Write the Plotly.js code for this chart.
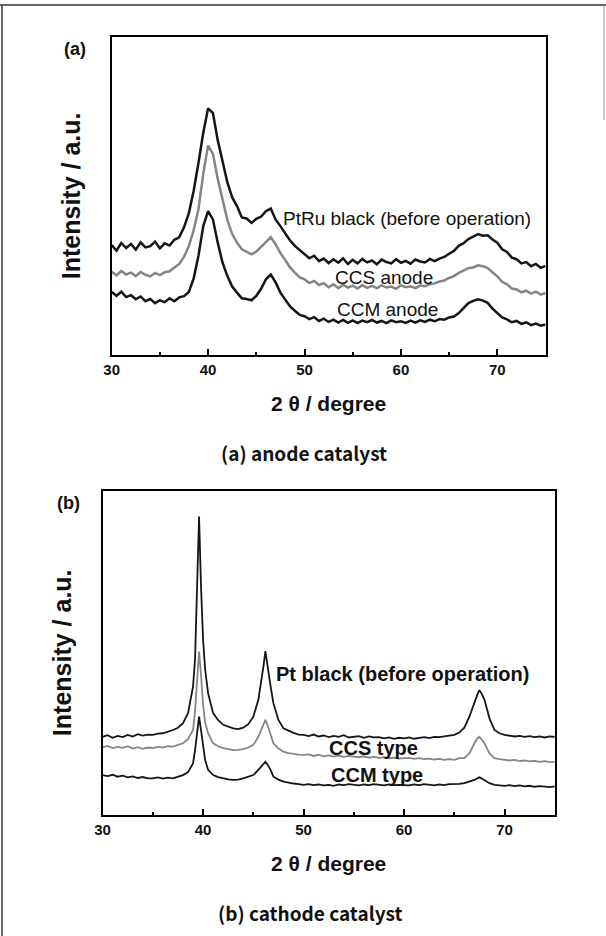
<!DOCTYPE html>
<html>
<head>
<meta charset="utf-8">
<script src="https://cdn.plot.ly/plotly-3.0.1.min.js"></script>
<style>html,body{margin:0;padding:0;background:#fff;}#chart{width:606px;height:936px;}</style>
</head>
<body>
<div id="chart"></div>
<script>
// ---------- Panel (a): anode catalyst, 2θ from 30 to 75 step 0.5 ----------
const xa = [30,30.5,31,31.5,32,32.5,33,33.5,34,34.5,35,35.5,36,36.5,37,37.5,38,38.5,39,39.5,
  40,40.5,41,41.5,42,42.5,43,43.5,44,44.5,45,45.5,46,46.5,47,47.5,48,48.5,49,49.5,
  50,50.5,51,51.5,52,52.5,53,53.5,54,54.5,55,55.5,56,56.5,57,57.5,58,58.5,59,59.5,
  60,60.5,61,61.5,62,62.5,63,63.5,64,64.5,65,65.5,66,66.5,67,67.5,68,68.5,69,69.5,
  70,70.5,71,71.5,72,72.5,73,73.5,74,74.5,75];
const ptruBlack = [34.5,32.8,35.2,33.6,34.9,33.1,35.4,33.8,34.2,35.6,33.5,35.1,34.4,36.2,37.0,40.1,44.5,51.5,60.3,69.8,
  77.5,76.0,67.5,60.8,54.2,49.5,46.8,43.2,42.9,41.5,42.8,43.5,45.2,46.0,42.6,40.5,38.2,36.0,34.3,32.9,
  31.6,30.4,31.2,29.5,30.3,28.9,30.1,29.0,30.4,28.6,29.9,28.8,30.2,29.1,29.7,28.5,30.0,29.2,28.8,30.1,
  29.0,29.6,28.7,30.0,29.4,29.1,30.2,29.5,30.3,30.8,31.8,32.7,34.3,35.1,36.4,37.2,38.0,37.5,37.6,36.3,
  35.3,33.2,32.4,30.6,30.1,28.8,29.2,27.9,28.6,27.4,28.0];
const ccsAnode = [26.2,25.0,26.4,25.3,25.9,24.8,26.1,25.2,24.7,25.8,25.1,26.0,26.3,27.4,28.6,30.8,34.2,39.2,45.8,57.0,
  65.8,63.2,55.3,48.9,42.4,38.0,35.3,33.2,32.4,31.6,32.5,34.0,35.6,37.0,34.8,32.0,29.9,27.5,25.9,24.4,
  23.8,22.6,23.3,22.0,22.6,21.3,22.2,21.0,22.1,21.2,21.8,20.9,22.0,21.1,21.7,21.0,21.9,21.2,21.5,20.8,
  21.9,21.3,21.6,21.0,21.8,21.6,22.2,22.5,23.1,23.4,24.2,24.8,25.8,26.5,27.3,27.5,28.2,27.9,27.3,26.0,
  24.7,23.0,22.2,20.9,20.6,19.7,20.2,19.3,19.9,19.0,19.5];
const ccmAnode = [19.8,18.6,19.9,18.2,18.8,17.5,18.4,16.9,17.6,16.3,17.2,16.6,17.8,16.9,18.1,18.5,19.8,24.0,31.2,40.5,
  45.2,42.6,35.3,29.0,24.8,21.5,19.6,17.8,17.6,17.2,18.6,20.8,23.8,25.3,22.8,19.6,17.4,15.3,13.9,12.6,
  12.2,11.3,11.9,10.7,11.4,10.4,11.1,10.2,11.0,10.1,10.9,10.0,10.8,10.3,11.0,10.2,10.7,10.0,10.9,10.3,
  10.6,10.1,10.8,10.2,10.9,10.4,11.1,10.6,11.3,11.1,11.8,12.1,13.2,14.6,16.3,17.0,17.5,17.1,16.4,14.6,
  13.2,11.8,11.2,10.3,10.7,9.8,10.3,9.4,9.9,9.2,9.6];

// ---------- Panel (b): cathode catalyst ----------
const xb = [30,30.5,31,31.5,32,32.5,33,33.5,34,34.5,35,35.5,36,36.5,37,37.5,38,38.5,
  39,39.2,39.4,39.6,39.8,40,40.2,40.5,41,41.5,42,42.5,43,43.5,44,44.5,45,45.5,
  45.8,46,46.2,46.4,46.7,47,47.5,48,48.5,49,49.5,50,
  50.5,51,51.5,52,52.5,53,53.5,54,54.5,55,55.5,56,56.5,57,57.5,58,58.5,59,59.5,60,
  60.5,61,61.5,62,62.5,63,63.5,64,64.5,65,65.5,66,66.5,
  67,67.3,67.5,67.7,68,68.5,69,69.5,70,70.5,71,71.5,72,72.5,73,73.5,74,74.5,75];
const ptBlack = [24.1,24.6,23.8,24.4,24.0,24.7,24.2,24.9,24.5,24.8,24.7,25.1,25.2,25.6,26.2,26.9,28.3,31.4,
  39.6,48,68,92,70,54,45,37.5,31.4,29.2,27.8,27.2,26.7,26.5,26.9,28.0,30.3,35.5,
  41,45.7,50.5,46,40,34.4,29.3,26.7,25.9,25.3,24.8,24.7,
  24.3,24.8,24.2,24.5,24.0,24.4,24.1,24.6,23.9,24.1,24.3,23.8,24.2,23.9,24.0,23.6,23.9,23.5,23.8,23.6,
  23.9,23.5,23.8,24.0,23.7,24.1,24.0,24.3,24.4,24.7,25.4,26.9,30.3,
  34.9,37.2,38.5,37.5,35.5,29.8,26.2,25.2,24.7,24.4,24.2,24.4,24.1,24.3,24.0,24.2,23.9,24.2,24.1];
const ccsType = [20.9,21.3,20.6,21.0,20.7,21.2,20.5,20.9,20.4,20.8,20.6,21.0,20.8,21.2,21.1,21.5,22.1,23.4,
  26.2,32,42,50.4,43,34,28.5,25.2,22.1,21.2,20.6,20.3,20.0,20.1,20.3,20.8,21.6,24.1,
  26.5,28.3,29.3,27.8,25.2,22.1,20.5,19.5,19.1,18.8,18.6,18.5,
  18.7,18.2,18.6,18.1,18.4,18.0,18.3,17.9,18.2,18.0,17.8,18.1,17.7,17.9,17.6,17.8,17.5,17.7,17.4,17.5,
  17.6,17.3,17.5,17.2,17.4,17.1,17.3,17.0,17.2,17.0,17.5,17.5,19.0,
  22.1,23.6,24.1,23.4,22.1,19.0,17.5,17.2,17.0,16.8,17.0,16.6,16.8,16.5,16.7,16.4,16.6,16.3,16.4];
const ccmType = [12.3,12.0,12.4,11.8,12.1,11.6,11.9,11.4,11.7,11.3,11.3,11.6,11.2,11.5,11.3,11.7,12.3,13.2,
  15.9,20,26,30.3,26,20.5,17,13.9,12.3,11.7,11.3,11.0,10.8,10.9,11.3,11.7,12.3,13.9,
  15.0,15.9,16.4,15.6,14.0,11.8,10.9,10.3,9.9,9.7,9.5,9.3,
  9.5,9.2,9.4,9.1,9.3,9.0,9.4,9.2,9.5,9.3,9.1,9.4,9.2,9.5,9.3,9.1,9.4,9.2,9.3,9.3,
  9.1,9.4,9.2,9.5,9.3,9.1,9.4,9.2,9.5,9.5,9.6,9.8,10.2,
  10.8,11.3,11.6,11.3,10.8,9.8,9.3,9.1,9.0,9.2,8.9,9.1,8.8,9.0,8.7,8.9,8.8,8.6,8.8];

const xTicks = [30,40,50,60,70];
const labelsA = ['PtRu black (before operation)','CCS anode','CCM anode'];
const labelsB = ['Pt black (before operation)','CCS type','CCM type'];
const captions = ['(a) anode catalyst','(b) cathode catalyst'];

const FONT = 'Liberation Sans, Arial, Helvetica, sans-serif';
const CAPFONT = 'Noto Sans CJK KR, Noto Sans, sans-serif';
const BLACK = '#151515', GRAY = '#858585';

function tr(x, y, color, w, xa_, ya_) {
  return {x: x, y: y, type: 'scatter', mode: 'lines', line: {color: color, width: w},
          xaxis: xa_, yaxis: ya_, hoverinfo: 'skip', showlegend: false};
}

const data = [
  tr(xa, ptruBlack, BLACK, 2.5, 'x', 'y'),
  tr(xa, ccsAnode, GRAY, 2.5, 'x', 'y'),
  tr(xa, ccmAnode, BLACK, 2.5, 'x', 'y'),
  tr(xb, ptBlack, BLACK, 1.8, 'x2', 'y2'),
  tr(xb, ccsType, GRAY, 1.8, 'x2', 'y2'),
  tr(xb, ccmType, BLACK, 1.8, 'x2', 'y2')
];

function xaxisDef(domain, anchor) {
  return {
    domain: domain, anchor: anchor, range: [30, 75], autorange: false,
    showline: true, linecolor: '#000', linewidth: 2, mirror: true,
    ticks: 'inside', ticklen: 6, tickwidth: 2, tickcolor: '#000',
    tickvals: xTicks, ticktext: xTicks.map(String),
    minor: {ticks: 'inside', tickvals: [35,45,55,65], ticklen: 3, tickwidth: 2, tickcolor: '#000'},
    showgrid: false, zeroline: false,
    tickfont: {family: FONT, size: 15, color: '#111', weight: 'bold'},
    title: {text: '2 θ / degree', font: {family: FONT, size: 21, color: '#111', weight: 'bold'}, standoff: 19},
    automargin: false
  };
}
function yaxisDef(domain, anchor) {
  return {
    domain: domain, anchor: anchor, range: [0, 100], autorange: false,
    showline: true, linecolor: '#000', linewidth: 2, mirror: true,
    ticks: '', showticklabels: false, showgrid: false, zeroline: false,
    title: {text: 'Intensity / a.u.', font: {family: FONT, size: 25, color: '#111', weight: 'bold'}, standoff: 22},
    automargin: false
  };
}

const layout = {
  width: 606, height: 936,
  margin: {l: 0, r: 0, t: 0, b: 0},
  paper_bgcolor: '#fff', plot_bgcolor: '#fff',
  xaxis: xaxisDef([0.1843, 0.9002], 'y'),
  yaxis: yaxisDef([0.6207, 0.9608], 'x'),
  xaxis2: xaxisDef([0.1693, 0.9155], 'y2'),
  yaxis2: yaxisDef([0.1293, 0.4758], 'x2'),
  annotations: [
    {xref: 'x', yref: 'y', x: 47.57, y: 43.0, xanchor: 'left', yanchor: 'middle', showarrow: false,
     text: labelsA[0], font: {family: FONT, size: 19, color: '#111'}},
    {xref: 'x', yref: 'y', x: 52.97, y: 24.5, xanchor: 'left', yanchor: 'middle', showarrow: false,
     text: labelsA[1], font: {family: FONT, size: 19, color: '#111'}},
    {xref: 'x', yref: 'y', x: 53.18, y: 14.4, xanchor: 'left', yanchor: 'middle', showarrow: false,
     text: labelsA[2], font: {family: FONT, size: 19, color: '#111'}},
    {xref: 'x2', yref: 'y2', x: 47.07, y: 43.5, xanchor: 'left', yanchor: 'middle', showarrow: false,
     text: '<b>' + labelsB[0] + '</b>', font: {family: FONT, size: 20, color: '#111'}},
    {xref: 'x2', yref: 'y2', x: 52.35, y: 20.7, xanchor: 'left', yanchor: 'middle', showarrow: false,
     text: '<b>' + labelsB[1] + '</b>', font: {family: FONT, size: 20, color: '#111'}},
    {xref: 'x2', yref: 'y2', x: 52.55, y: 12.3, xanchor: 'left', yanchor: 'middle', showarrow: false,
     text: '<b>' + labelsB[2] + '</b>', font: {family: FONT, size: 20, color: '#111'}},
    {xref: 'paper', yref: 'paper', x: 75/606, y: 1 - 49/936, xanchor: 'center', yanchor: 'middle', showarrow: false,
     text: '<b>(a)</b>', font: {family: FONT, size: 18, color: '#111'}},
    {xref: 'paper', yref: 'paper', x: 68/606, y: 1 - 503/936, xanchor: 'center', yanchor: 'middle', showarrow: false,
     text: '<b>(b)</b>', font: {family: FONT, size: 18, color: '#111'}},
    {xref: 'paper', yref: 'paper', x: 304/606, y: 1 - 452/936, xanchor: 'center', yanchor: 'middle', showarrow: false,
     text: '<b>' + captions[0] + '</b>', font: {family: CAPFONT, size: 19, color: '#111'}},
    {xref: 'paper', yref: 'paper', x: 310/606, y: 1 - 912/936, xanchor: 'center', yanchor: 'middle', showarrow: false,
     text: '<b>' + captions[1] + '</b>', font: {family: CAPFONT, size: 19, color: '#111'}}
  ],
  shapes: [
    {type: 'line', xref: 'paper', yref: 'paper', x0: 0, x1: 1, y0: 1 - 5/936, y1: 1 - 5/936, line: {color: '#333', width: 1.5}},
    {type: 'line', xref: 'paper', yref: 'paper', x0: 2/606, x1: 2/606, y0: 0, y1: 1 - 5/936, line: {color: '#333', width: 1.5}},
    {type: 'line', xref: 'paper', yref: 'paper', x0: 604/606, x1: 604/606, y0: 1 - 120/936, y1: 1 - 5/936, line: {color: '#999', width: 1}}
  ]
};

Plotly.newPlot('chart', data, layout, {staticPlot: true, displayModeBar: false});
</script>
</body>
</html>
